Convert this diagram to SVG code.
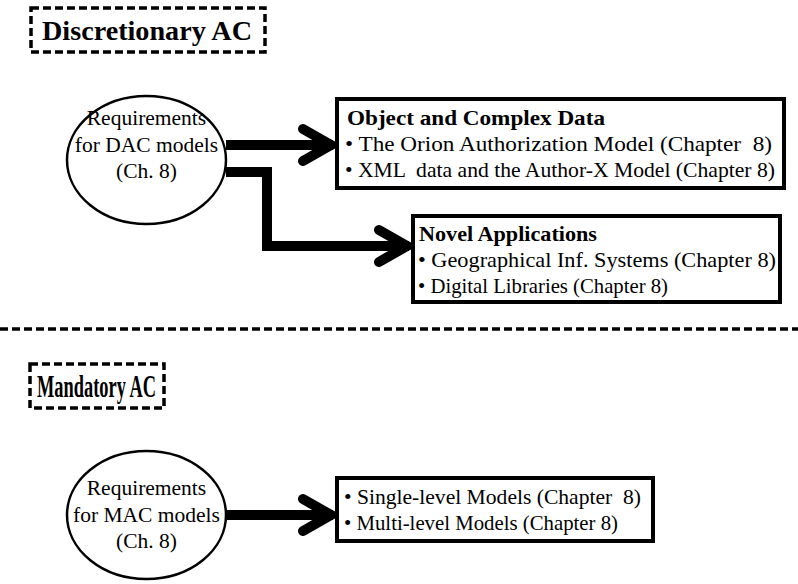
<svg xmlns="http://www.w3.org/2000/svg" width="798" height="584" viewBox="0 0 798 584">
<style>
.bg{fill:#fff}
.dash{fill:none;stroke:#000;stroke-width:3.5;stroke-dasharray:8 4}
.ell{fill:#fff;stroke:#000;stroke-width:2.5}
.box{fill:#fff;stroke:#000;stroke-width:4}
text{font-family:'Liberation Serif','Times New Roman',Times,serif;fill:#000}
.t{font-size:21.5px}
.c{text-anchor:middle}
.b{font-weight:bold}
.h{font-weight:bold}
.conn{fill:none;stroke:#000;stroke-width:10;stroke-linejoin:miter}
</style>
<defs>
<marker id="chev" markerUnits="userSpaceOnUse" viewBox="-40 -25 46 50" refX="0" refY="0" markerWidth="46" markerHeight="50" orient="auto" overflow="visible">
<path d="M-30,-16 L-2,0 L-30,16" fill="none" stroke="#000" stroke-width="10" stroke-linecap="round" stroke-linejoin="miter"/>
</marker>
</defs>
<rect class="bg" x="0" y="0" width="798" height="584"/>

<g id="title-dac">
<rect class="dash" x="31" y="8" width="234" height="44"/>
<text class="h" x="42" y="40" font-size="28" textLength="210" lengthAdjust="spacingAndGlyphs">Discretionary AC</text>
</g>

<line class="dash" x1="0" y1="329" x2="798" y2="329"/>

<g id="title-mac">
<rect class="dash" x="30" y="364" width="134" height="44"/>
<text class="h" x="37" y="397" font-size="31" textLength="119" lengthAdjust="spacingAndGlyphs">Mandatory AC</text>
</g>

<g id="connectors">
<path class="conn" d="M226,145 L333,145" marker-end="url(#chev)"/>
<path class="conn" d="M226,172 L267,172 L267,246 L409,246" marker-end="url(#chev)"/>
<path class="conn" d="M226,515 L333,515" marker-end="url(#chev)"/>
</g>

<g id="req-dac">
<ellipse class="ell" cx="146.5" cy="160" rx="79.5" ry="64"/>
<text class="t c" x="146.5" y="125">Requirements</text>
<text class="t c" x="146.5" y="152">for DAC models</text>
<text class="t c" x="146.5" y="178">(Ch. 8)</text>
</g>

<g id="object-complex">
<rect class="box" x="337" y="99" width="447" height="89"/>
<text class="t b" x="347" y="125" textLength="258" lengthAdjust="spacingAndGlyphs">Object and Complex Data</text>
<text class="t" x="345" y="151" xml:space="preserve" textLength="427" lengthAdjust="spacingAndGlyphs">• The Orion Authorization Model (Chapter  8)</text>
<text class="t" x="345" y="177" xml:space="preserve" textLength="430" lengthAdjust="spacingAndGlyphs">• XML  data and the Author-X Model (Chapter 8)</text>
</g>

<g id="novel-apps">
<rect class="box" x="413" y="216" width="367" height="86"/>
<text class="t b" x="419" y="241" textLength="178" lengthAdjust="spacingAndGlyphs">Novel Applications</text>
<text class="t" x="418" y="267" textLength="358" lengthAdjust="spacingAndGlyphs">• Geographical Inf. Systems (Chapter 8)</text>
<text class="t" x="418" y="293" textLength="250" lengthAdjust="spacingAndGlyphs">• Digital Libraries (Chapter 8)</text>
</g>

<g id="req-mac">
<ellipse class="ell" cx="146.5" cy="515" rx="79.5" ry="64"/>
<text class="t c" x="146.5" y="495">Requirements</text>
<text class="t c" x="146.5" y="522">for MAC models</text>
<text class="t c" x="146.5" y="548">(Ch. 8)</text>
</g>

<g id="mac-models">
<rect class="box" x="337" y="478" width="316" height="63"/>
<text class="t" x="344" y="504" xml:space="preserve" textLength="297" lengthAdjust="spacingAndGlyphs">• Single-level Models (Chapter  8)</text>
<text class="t" x="344" y="530" textLength="274" lengthAdjust="spacingAndGlyphs">• Multi-level Models (Chapter 8)</text>
</g>
</svg>
